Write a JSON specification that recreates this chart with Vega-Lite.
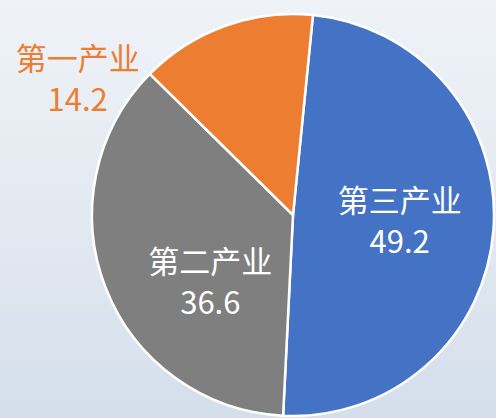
{
  "$schema": "https://vega.github.io/schema/vega-lite/v6.json",
  "width": 586,
  "height": 430,
  "autosize": "none",
  "padding": {"left": 0, "top": 0, "right": -90, "bottom": -12},
  "background": "#e3e9f1",
  "config": {
    "view": {"stroke": null},
    "text": {"font": "Noto Sans CJK SC"}
  },
  "layer": [
    {
      "data": {"values": [{"bg": 1}]},
      "mark": {
        "type": "rect",
        "color": {
          "gradient": "linear",
          "x1": 0, "y1": 0, "x2": 0, "y2": 1,
          "stops": [
            {"offset": 0, "color": "#eff3f8"},
            {"offset": 0.5, "color": "#e3e9f1"},
            {"offset": 1, "color": "#d3deeb"}
          ]
        }
      },
      "encoding": {}
    },
    {
      "data": {
        "values": [
          {"name": "第三产业", "value": 49.2, "order": 1},
          {"name": "第二产业", "value": 36.6, "order": 2},
          {"name": "第一产业", "value": 14.2, "order": 3}
        ]
      },
      "transform": [
        {"calculate": "datum.name + '\\n' + format(datum.value, '.1f')", "as": "label"}
      ],
      "encoding": {
        "theta": {"field": "value", "type": "quantitative", "stack": true,
          "scale": {"range": [0.0995, 6.3827]}},
        "order": {"field": "order", "type": "quantitative"}
      },
      "layer": [
        {
          "mark": {"type": "arc", "outerRadius": 201, "stroke": "white", "strokeWidth": 2.5},
          "encoding": {
            "color": {
              "field": "name", "type": "nominal",
              "scale": {"domain": ["第三产业", "第二产业", "第一产业"], "range": ["#4472C4", "#7F7F7F", "#ED7D31"]},
              "legend": null
            }
          }
        },
        {
          "mark": {"type": "text", "radius": 107, "dy": -20, "fontSize": 31, "lineHeight": 41, "lineBreak": "\n", "color": "white", "align": "center", "baseline": "middle"},
          "encoding": {
            "text": {"condition": {"test": "datum.name === '第三产业'", "field": "label"}, "value": ""}
          }
        },
        {
          "mark": {"type": "text", "radius": 107, "dx": 17, "dy": 10, "fontSize": 31, "lineHeight": 41, "lineBreak": "\n", "color": "white", "align": "center", "baseline": "middle"},
          "encoding": {
            "text": {"condition": {"test": "datum.name === '第二产业'", "field": "label"}, "value": ""}
          }
        },
        {
          "mark": {"type": "text", "radius": 107, "dx": -179, "dy": -53, "fontSize": 31, "lineHeight": 41, "lineBreak": "\n", "color": "#ED7D31", "align": "center", "baseline": "middle"},
          "encoding": {
            "text": {"condition": {"test": "datum.name === '第一产业'", "field": "label"}, "value": ""}
          }
        }
      ]
    }
  ]
}
